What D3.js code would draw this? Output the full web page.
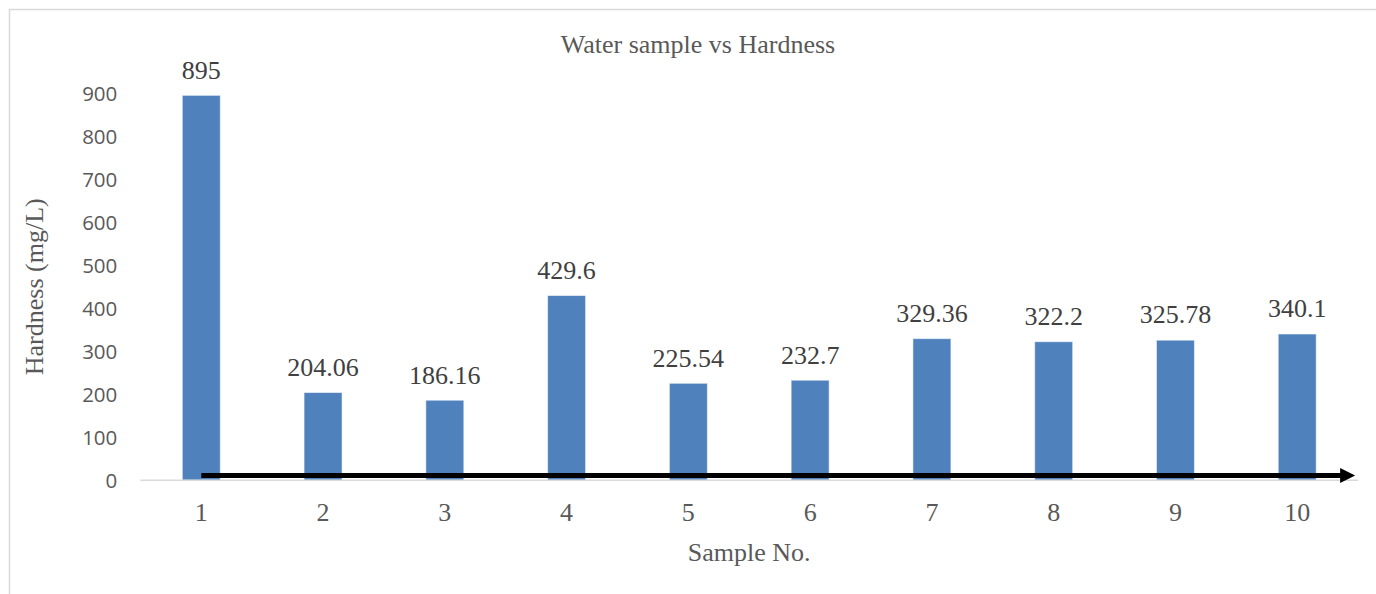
<!DOCTYPE html>
<html>
<head>
<meta charset="utf-8">
<script src="https://cdn.jsdelivr.net/npm/d3@7"></script>
<style>
  html, body { margin: 0; padding: 0; background: #fff; }
  svg { display: block; }
</style>
</head>
<body>
<svg id="chart" width="1376" height="594"></svg>
<script>
// Sample numbers and measured total hardness (mg/L)
const samples = ["1", "2", "3", "4", "5", "6", "7", "8", "9", "10"];
const hardness = [895, 204.06, 186.16, 429.6, 225.54, 232.7, 329.36, 322.2, 325.78, 340.1];
const yTicks = [0, 100, 200, 300, 400, 500, 600, 700, 800, 900];

const chartTitle = "Water sample vs Hardness";
const xTitle = "Sample No.";
const yTitle = "Hardness (mg/L)";

const W = 1376, H = 594;
const plot = { left: 140.4, right: 1358.1, top: 93.2, bottom: 480.3 };

const serif = "'Liberation Serif', 'Times New Roman', serif";
const sans = "'Open Sans', 'Noto Sans', sans-serif";

const svg = d3.select("#chart");

// outer chart frame
svg.append("rect")
  .attr("x", 9.5).attr("y", 9.5)
  .attr("width", W + 20).attr("height", H + 20)
  .attr("fill", "#fff").attr("stroke", "#d9d9d9").attr("stroke-width", 1.5);

const x = d3.scaleBand()
  .domain(samples)
  .range([plot.left, plot.right])
  .paddingInner(0.688)
  .paddingOuter(0.344);

const y = d3.scaleLinear()
  .domain([0, 900])
  .range([plot.bottom, plot.top]);

// y axis labels (no line, no ticks)
const yAxis = d3.axisLeft(y).tickValues(yTicks).tickSize(0).tickPadding(0);
const gy = svg.append("g")
  .attr("transform", `translate(117.3,0)`)
  .call(yAxis);
gy.select(".domain").remove();
gy.selectAll("text")
  .attr("font-family", sans)
  .attr("font-size", 20.5)
  .attr("fill", "#595959")
  .attr("dy", "0.357em")
  .attr("x", 0);

// bars
const data = samples.map((s, i) => ({ s, v: hardness[i] }));
svg.append("g").selectAll("rect")
  .data(data)
  .join("rect")
  .attr("x", d => x(d.s))
  .attr("y", d => y(d.v))
  .attr("width", x.bandwidth())
  .attr("height", d => y(0) - y(d.v))
  .attr("fill", "#4f81bd")
  .attr("stroke", "rgba(255,255,255,0.55)")
  .attr("stroke-width", 1);

// category axis baseline
svg.append("line")
  .attr("x1", plot.left).attr("x2", plot.right)
  .attr("y1", y(0)).attr("y2", y(0))
  .attr("stroke", "#d9d9d9").attr("stroke-width", 1.5);

// x axis labels
const xAxis = d3.axisBottom(x).tickSize(0).tickPadding(0);
const gx = svg.append("g")
  .attr("transform", `translate(0,520.5)`)
  .call(xAxis);
gx.select(".domain").remove();
gx.selectAll("text")
  .attr("font-family", serif)
  .attr("font-size", 26)
  .attr("fill", "#595959")
  .attr("dy", 0)
  .attr("y", 0);

// value labels
svg.append("g").selectAll("text")
  .data(data)
  .join("text")
  .attr("x", d => x(d.s) + x.bandwidth() / 2)
  .attr("y", d => y(d.v) - 16.7)
  .attr("text-anchor", "middle")
  .attr("font-family", serif)
  .attr("font-size", 26)
  .attr("fill", "#404040")
  .text(d => d.v);

// black trend arrow along the base
const arrowStart = x(samples[0]) + x.bandwidth() / 2;
const arrowTip = plot.right - 3;
const arrowY = y(0) - 4.8;
svg.append("line")
  .attr("x1", arrowStart).attr("x2", arrowTip - 12)
  .attr("y1", arrowY).attr("y2", arrowY)
  .attr("stroke", "#000").attr("stroke-width", 5);
svg.append("path")
  .attr("d", `M${arrowTip - 15},${arrowY - 7.5} L${arrowTip},${arrowY} L${arrowTip - 15},${arrowY + 7.5} Z`)
  .attr("fill", "#000");

// titles
svg.append("text")
  .attr("x", 698).attr("y", 53.3)
  .attr("text-anchor", "middle")
  .attr("font-family", serif).attr("font-size", 26)
  .attr("fill", "#595959")
  .text(chartTitle);

svg.append("text")
  .attr("x", (plot.left + plot.right) / 2).attr("y", 560.5)
  .attr("text-anchor", "middle")
  .attr("font-family", serif).attr("font-size", 26)
  .attr("fill", "#595959")
  .text(xTitle);

svg.append("text")
  .attr("transform", `translate(43,${(plot.top + plot.bottom) / 2}) rotate(-90)`)
  .attr("text-anchor", "middle")
  .attr("font-family", serif).attr("font-size", 26)
  .attr("fill", "#595959")
  .text(yTitle);
</script>
</body>
</html>
